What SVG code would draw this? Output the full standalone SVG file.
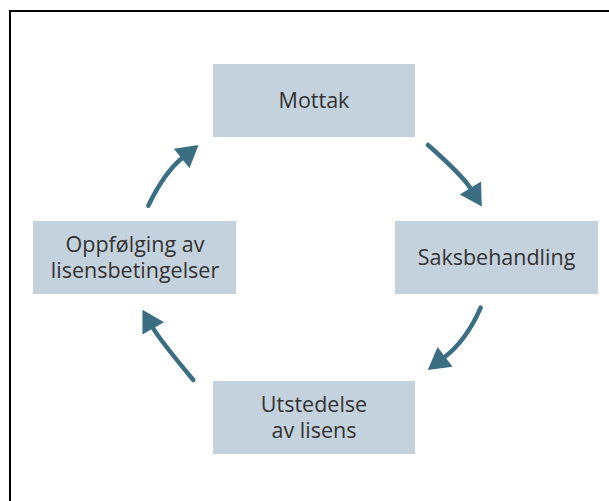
<svg xmlns="http://www.w3.org/2000/svg" width="609" height="501" viewBox="0 0 609 501">
  <style>
    .box { fill: #c4d2dd; }
    .lbl { font-family: "Open Sans", "Noto Sans", "DejaVu Sans", sans-serif; font-size: 21.5px; fill: #333333; text-anchor: middle; }
    .arc { fill: none; stroke: #3b6e82; stroke-width: 4.5; stroke-linecap: round; marker-end: url(#head); }
  </style>
  <defs>
    <marker id="head" markerUnits="userSpaceOnUse" markerWidth="24" markerHeight="26" viewBox="0 -12 22 24" refX="1" refY="0" orient="auto" overflow="visible">
      <path d="M0,-11.5 L20,0 L0,11.5 Z" fill="#3b6e82"/>
    </marker>
  </defs>
  <rect x="10" y="11" width="620" height="510" fill="#ffffff" stroke="#000000" stroke-width="2"/>

  <g id="mottak">
    <rect class="box" x="213" y="64" width="202" height="73"/>
    <text class="lbl" x="314" y="107.5">Mottak</text>
  </g>
  <g id="saksbehandling">
    <rect class="box" x="395" y="221" width="203" height="73"/>
    <text class="lbl" x="496.5" y="265">Saksbehandling</text>
  </g>
  <g id="utstedelse">
    <rect class="box" x="213" y="381" width="202" height="73"/>
    <text class="lbl" x="314" y="412">Utstedelse</text>
    <text class="lbl" x="314" y="438">av lisens</text>
  </g>
  <g id="oppfolging">
    <rect class="box" x="33" y="221" width="203" height="73"/>
    <text class="lbl" x="135" y="252">Oppfølging av</text>
    <text class="lbl" x="135" y="278">lisensbetingelser</text>
  </g>

  <g id="connectors">
    <path class="arc" d="M428,145 Q463,176 471,189"/>
    <path class="arc" d="M480.7,307.7 Q466,341 444.2,357.5"/>
    <path class="arc" d="M193.3,380 Q159.5,339.4 152.7,327.5"/>
    <path class="arc" d="M148.3,205.7 Q164.5,172.3 182.5,157.8"/>
  </g>
</svg>
